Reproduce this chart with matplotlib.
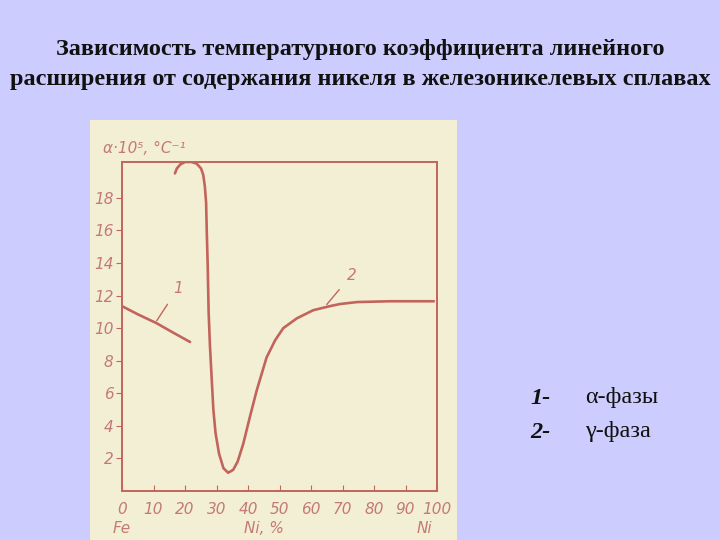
import matplotlib
matplotlib.use('Agg')
import matplotlib.pyplot as plt

# curve 1: alpha phase, curve 2: gamma phase (Ni content %, alpha*10^5 1/°C)
ni_alpha = [0, 5, 11, 16, 21.6]
coef_alpha = [11.35, 10.85, 10.3, 9.75, 9.15]

ni_gamma = [16.8, 17.4, 18.5, 20.0, 22.1, 23.7, 25.1, 25.8, 26.3, 26.7, 26.9, 27.2,
            27.5, 27.9, 28.5, 29.0, 29.7, 30.8, 32.2, 33.7, 35.3, 36.7, 38.5, 40.6,
            42.8, 45.9, 48.6, 51.2, 55.5, 60.7, 66.0, 69.2, 74.6, 85, 99]
coef_gamma = [19.5, 19.8, 20.05, 20.2, 20.2, 20.1, 19.8, 19.4, 18.7, 17.7, 16.0, 13.9,
              11.0, 9.0, 6.8, 5.0, 3.55, 2.3, 1.4, 1.12, 1.3, 1.8, 2.9, 4.55,
              6.2, 8.2, 9.25, 10.0, 10.6, 11.1, 11.35, 11.48, 11.6, 11.65, 11.65]

x_ticks = [0, 10, 20, 30, 40, 50, 60, 70, 80, 90, 100]
y_ticks = [2, 4, 6, 8, 10, 12, 14, 16, 18]

bg = '#CCCCFF'
paper = '#F3EFD5'
ink = '#C2645C'
ink_txt = '#C47A74'

fig = plt.figure(figsize=(7.2, 5.4), dpi=100, facecolor=bg)

# scanned paper panel (background axes)
panel = fig.add_axes([90 / 720, 0, 367 / 720, 420 / 540], zorder=0)
panel.set_facecolor(paper)
panel.set_xticks([])
panel.set_yticks([])
for s in panel.spines.values():
    s.set_visible(False)

fig.text(0.5, 1 - 50 / 540, 'Зависимость температурного коэффициента линейного',
         ha='center', va='center', fontsize=17.5, fontweight='bold',
         family='Liberation Serif', color='#111111')
fig.text(0.5, 1 - 79 / 540, 'расширения от содержания никеля в железоникелевых сплавах',
         ha='center', va='center', fontsize=17.5, fontweight='bold',
         family='Liberation Serif', color='#111111')

ax = fig.add_axes([122 / 720, 1 - 491 / 540, 315 / 720, 329 / 540], zorder=1)
ax.set_facecolor('none')
ax.plot(ni_alpha, coef_alpha, color=ink, lw=1.9, solid_capstyle='round')
ax.plot(ni_gamma, coef_gamma, color=ink, lw=1.9, solid_capstyle='round')
ax.set_xlim(0, 100)
ax.set_ylim(0, 20.2)

for s in ax.spines.values():
    s.set_color(ink)
    s.set_linewidth(1.4)

hand = dict(family='DejaVu Sans', style='italic', color=ink_txt)
ax.set_xticks(x_ticks)
ax.set_xticklabels([str(t) for t in x_ticks], fontsize=11, **hand)
ax.set_yticks(y_ticks)
ax.set_yticklabels([str(t) for t in y_ticks], fontsize=11, **hand)
ax.tick_params(axis='x', direction='in', length=4, color=ink, pad=8)
ax.tick_params(axis='y', direction='out', length=4, color=ink, pad=2)

ax.text(-6, 21.0, 'α·10⁵, °C⁻¹', fontsize=11, ha='left', va='center', clip_on=False, **hand)
ax.text(0, -2.3, 'Fe', fontsize=11, ha='center', va='center', clip_on=False, **hand)
ax.text(45, -2.3, 'Ni, %', fontsize=11, ha='center', va='center', clip_on=False, **hand)
ax.text(96, -2.3, 'Ni', fontsize=11, ha='center', va='center', clip_on=False, **hand)

# curve labels with leader lines
ax.annotate('1', xy=(11, 10.45), xytext=(17.8, 12.45), fontsize=11, ha='center', va='center',
            arrowprops=dict(arrowstyle='-', color=ink, lw=1.0, shrinkB=0, shrinkA=5), **hand)
ax.annotate('2', xy=(65, 11.45), xytext=(72.8, 13.25), fontsize=11, ha='center', va='center',
            arrowprops=dict(arrowstyle='-', color=ink, lw=1.0, shrinkB=0, shrinkA=5), **hand)

# legend text
fig.text(530 / 720, 1 - 398 / 540, '1-', fontsize=17.5, style='italic', fontweight='bold',
         family='Liberation Serif', va='center', color='#111111')
fig.text(530 / 720, 1 - 432 / 540, '2-', fontsize=17.5, style='italic', fontweight='bold',
         family='Liberation Serif', va='center', color='#111111')
fig.text(585 / 720, 1 - 398 / 540, 'α-фазы', fontsize=17.5,
         family='Liberation Serif', va='center', color='#111111')
fig.text(585 / 720, 1 - 432 / 540, 'γ-фаза', fontsize=17.5,
         family='Liberation Serif', va='center', color='#111111')

fig.savefig('out.png', dpi=100, facecolor=bg)
